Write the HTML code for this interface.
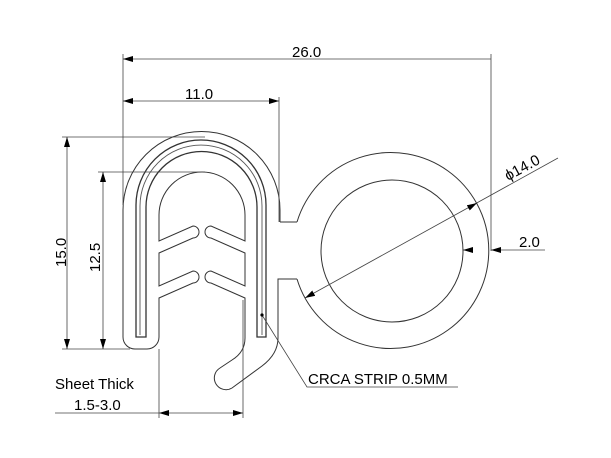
<!DOCTYPE html>
<html><head><style>body{margin:0;background:#fff}svg{display:block}text{font-family:"Liberation Sans",sans-serif;fill:#000}</style></head>
<body>
<svg width="611" height="458" viewBox="0 0 611 458" xmlns="http://www.w3.org/2000/svg">
<defs>
<marker id="a" viewBox="0 0 10 6" refX="10" refY="3" markerWidth="10" markerHeight="6" orient="auto-start-reverse" markerUnits="userSpaceOnUse"><path d="M0,0L10,3L0,6z" fill="#000"/></marker>
</defs>
<g fill="none" stroke="#333" stroke-width="1">
<path d="M280,222 L280,210 A78.5,78.5 0 0 0 123,210 L123,337 A12,12 0 0 0 135,349 L147,349 A12,12 0 0 0 159,337 L159,298 L193,283 A6,6 0 0 0 193,271 L159,286 L159,253 L193,238 A6,6 0 0 0 193,226 L159,241 L159,215 A43,43 0 0 1 245,215 L245,241 L211,226 A6,6 0 0 0 211,238 L245,253 L245,286 L211,271 A6,6 0 0 0 211,283 L245,298 L245,338 Q245,352 232,360 L220,368 A9,9 0 0 0 232,388 L262,366 Q278,354 278,338 L278,279 L297,279"/>
<path d="M280,222 L297,222"/>
<path d="M297,222 A98,98 0 1 1 297,279"/>
<circle cx="392" cy="251" r="71"/>
<path d="M136,337 L136,205 A65,65 0 0 1 266,205 L266,337 L257,337 L257,207 A55,55 0 0 0 146,207 L146,337 Z" stroke-width="1.3"/>
<path d="M140,335 L140,206 A61,61 0 0 1 262,206 L262,335" stroke="#555" stroke-width="0.9"/>
</g>
<g stroke="#444" stroke-width="0.8" fill="none">
<line x1="123" y1="54" x2="123" y2="205"/>
<line x1="491" y1="54" x2="491" y2="251"/>
<line x1="279" y1="97" x2="279" y2="222"/>
<line x1="62" y1="137" x2="205" y2="137"/>
<line x1="62" y1="349" x2="130" y2="349"/>
<line x1="98" y1="172" x2="205" y2="172"/>
<line x1="159" y1="349" x2="159" y2="418"/>
<line x1="243" y1="300" x2="243" y2="418"/>
<line x1="123" y1="59" x2="491" y2="59" marker-start="url(#a)"/>
<line x1="123" y1="101" x2="279" y2="101" marker-start="url(#a)" marker-end="url(#a)"/>
<line x1="67" y1="137" x2="67" y2="349" marker-start="url(#a)" marker-end="url(#a)"/>
<line x1="103" y1="172" x2="103" y2="349" marker-start="url(#a)" marker-end="url(#a)"/>
<line x1="55" y1="413" x2="159" y2="413"/>
<line x1="159" y1="413" x2="243" y2="413" marker-start="url(#a)" marker-end="url(#a)"/>
<line x1="473" y1="250" x2="463" y2="250" marker-end="url(#a)"/>
<line x1="545" y1="250" x2="491" y2="250" marker-end="url(#a)"/>
<line x1="305" y1="298" x2="558" y2="158" marker-start="url(#a)"/>
<line x1="468" y1="208" x2="477" y2="203" marker-end="url(#a)"/>
<path d="M262,315 L307,387 L458,387"/>
</g>
<circle cx="262" cy="315" r="1.6" fill="#000"/>
<text x="292" y="57" font-size="15">26.0</text>
<text x="185" y="99" font-size="15">11.0</text>
<text x="519" y="247" font-size="15">2.0</text>
<text transform="translate(66,267) rotate(-90)" font-size="15">15.0</text>
<text transform="translate(100,272) rotate(-90)" font-size="15">12.5</text>
<text transform="translate(508,181) rotate(-28.5)" font-size="15">ϕ14.0</text>
<text x="55" y="389" font-size="15">Sheet Thick</text>
<text x="74" y="410" font-size="15">1.5-3.0</text>
<text x="308" y="384" font-size="15">CRCA STRIP 0.5MM</text>
</svg>
</body></html>
